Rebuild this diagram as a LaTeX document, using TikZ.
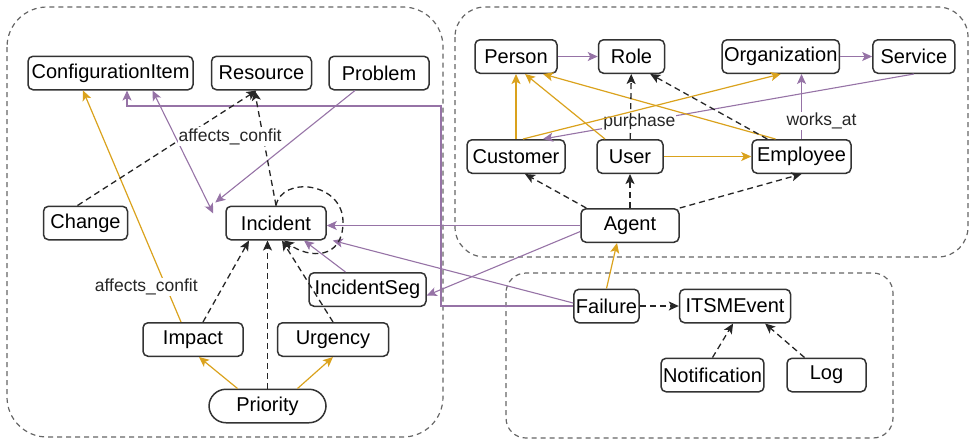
\documentclass[tikz,border=0pt]{standalone}
\usepackage{fontspec}
\setmainfont{Liberation Sans}
\usetikzlibrary{positioning, arrows.meta}
\definecolor{violet}{HTML}{9673A6}
\definecolor{amber}{HTML}{DAA21D}
\tikzset{>={Stealth[length=5pt, width=4.5pt, inset=1.2pt]},
  cls/.style={draw=black!80, fill=white, rounded corners=2.5pt, line width=0.75pt, minimum height=16.75pt, inner xsep=1pt, inner ysep=0pt, font=\fontsize{10}{12}\selectfont},
  grp/.style={draw=black!60, line width=0.6pt, dash pattern=on 2.5pt off 2pt},
  assoc/.style={->, violet, line width=0.55pt},
  comp/.style={->, amber, line width=0.6pt},
  dep/.style={->, black!85, line width=0.65pt, dash pattern=on 3pt off 2pt},
  lbl/.style={fill=white, inner sep=0.5pt, text=black!85, font=\fontsize{8.75}{10}\selectfont},}

\begin{document}
\begin{tikzpicture}[x=0.5pt, y=-0.5pt]
        \useasboundingbox (0,0) rectangle (972,440);
        \draw[grp, rounded corners=20pt] (7,7) rectangle (443,437);
        \draw[grp, rounded corners=15pt] (455,7) rectangle (968,257);
        \draw[grp, rounded corners=10pt] (506,273) rectangle (893,438);

        \node[cls, minimum width=82.5pt] (ci) at (110.5,73) {ConfigurationItem};
        \node[cls, minimum width=50pt, right=8.5pt of ci] (res) {Resource};
        \node[cls, minimum width=50pt, right=8pt of res] (prob) {Problem};
        \node[cls, minimum width=42pt] (chg) at (85.5,223) {Change};
        \node[cls, minimum width=50pt] (inc) at (276,223) {Incident};
        \node[cls, minimum width=58.5pt] (seg) at (367.5,289.5) {IncidentSeg};
        \node[cls, minimum width=50pt] (imp) at (193,339.5) {Impact};
        \node[cls, minimum width=55.5pt, right=16.5pt of imp] (urg) {Urgency};
        \node[cls, minimum width=58.5pt, rounded corners=8.5pt] (prio) at (267.5,406) {Priority};

        \node[cls, minimum width=41pt] (pers) at (516,56.5) {Person};
        \node[cls, minimum width=33pt, right=20pt of pers] (role) {Role};
        \node[cls, minimum width=57.5pt, right=28pt of role] (org) {Organization};
        \node[cls, minimum width=41pt, right=16pt of org] (serv) {Service};
        \node[cls, minimum width=49pt] (cust) at (516,156.5) {Customer};
        \node[cls, minimum width=33pt] (user) at (630,156.5) {User};
        \node[cls, minimum width=49.5pt] (emp) at (801.5,156.5) {Employee};
        \node[cls, minimum width=49pt, below=17pt of user] (agent) {Agent};

        \node[cls, minimum width=31.5pt] (fail) at (606.5,306) {Failure};
        \node[cls, minimum width=55.5pt, right=19.5pt of fail] (evt) {ITSMEvent};
        \node[cls, minimum width=50.5pt] (note) at (712.5,375) {Notification};
        \node[cls, minimum width=39.5pt] (log) at (826.5,375) {Log};

        \draw[assoc] (fail.west) -- (441,306) -- (441,106) -| ([xshift=8.25pt]ci.south);
        \path[assoc] (pers) edge (role)
                  (org) edge (serv)
                  (serv.south) edge node[lbl, pos=0.74]{purchase} ([xshift=13.5pt]cust.north)
                  ([xshift=-12pt]prob.south) edge ([xshift=-5pt, yshift=1.5pt]inc.north west)
                  ([xshift=-6pt, yshift=-4pt]inc.north west) edge[<->] ([xshift=21pt]ci.south)
                  (agent.west) edge (agent.west -| inc.east)
                  ([yshift=-3pt]agent.west) edge ([yshift=-3pt]seg.east)
                  ([yshift=1.5pt]fail.west) edge ([xshift=3pt]inc.south east)
                  ([xshift=-11pt]seg.north) edge ([xshift=14pt]inc.south);
        \draw[assoc] (emp.north) -- node[lbl, pos=0.28, xshift=10pt]{works\_at} (emp.north |- org.south);

        \path[comp] ([xshift=-6pt]imp.north) edge node[lbl, pos=0.15, xshift=-10pt]{affects\_confit} ([xshift=-13.75pt]ci.south)
                  ([xshift=-15pt]prio.north) edge ([xshift=3pt]imp.south)
                  ([xshift=15pt]prio.north) edge (urg.south)
                  (cust.north) edge (pers.south)
                  ([xshift=3.5pt]cust.north) edge (org.south)
                  ([xshift=-12.5pt]user.north) edge ([xshift=4.5pt]pers.south)
                  ([xshift=-13pt]emp.north) edge ([xshift=13.5pt]pers.south)
                  (user) edge (emp)
                  (fail.north) edge ([xshift=-6.5pt]agent.south);

        \path[dep] ([xshift=-4pt]chg.north) edge ([xshift=-2.5pt]res.south)
                  (inc.north) edge node[lbl, pos=0.6, xshift=-16.5pt]{affects\_confit} ([xshift=-3.5pt]res.south)
                  ([xshift=5pt]imp.north) edge ([xshift=-13.5pt]inc.south)
                  (prio.north) edge (prio.north |- inc.south)
                  (urg.north) edge ([xshift=3pt]inc.south)
                  ([xshift=3pt]agent.north west) edge ([xshift=4.5pt]cust.south)
                  (agent) edge (user)
                  (agent.north east) edge (emp.south)
                  (user) edge (role)
                  ([xshift=8pt]emp.north west) edge ([xshift=-7.5pt]role.south east)
                  (fail) edge (evt)
                  (note.north) edge ([xshift=-1pt]evt.south)
                  ([xshift=-11pt]log.north) edge ([xshift=15pt]evt.south);
        \draw[dep] (inc.north) .. controls +(6,-30) and +(0,-40) .. (343,222)
                  .. controls +(0,38) and +(25,18) .. ([xshift=4pt]inc.south);
    \end{tikzpicture}
\end{document}
